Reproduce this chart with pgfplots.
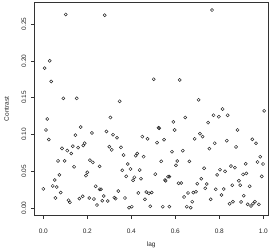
\documentclass[border=0pt]{standalone}
\usepackage{fontspec}
\setmainfont{Liberation Sans}
\usepackage{pgfplots}
\pgfplotsset{compat=1.18}
\newcommand\f{\fontsize{6.5}{7.8}\selectfont}
\pgfplotstableread{
lag c
0.102 0.263
0.029 0.200
0.006 0.190
0.036 0.172
0.091 0.149
0.152 0.149
0.279 0.262
0.502 0.175
0.347 0.145
0.767 0.269
0.620 0.174
0.706 0.147
0.305 0.123
0.018 0.121
0.012 0.106
0.170 0.110
0.815 0.1345
1.004 0.132
0.774 0.126
0.798 0.124
0.838 0.126
0.645 0.123
0.591 0.117
0.749 0.116
0.524 0.1090
0.527 0.1085
0.597 0.106
0.883 0.106
0.025 0.093
0.221 0.102
0.146 0.099
0.085 0.081
0.109 0.078
0.127 0.074
0.134 0.084
0.158 0.082
0.182 0.085
0.188 0.088
0.067 0.064
0.097 0.064
0.140 0.056
0.212 0.065
0.225 0.062
0.200 0.0485
0.194 0.044
0.073 0.045
0.052 0.038
0.043 0.030
0.061 0.0285
0.000 0.026
0.079 0.021
0.055 0.0136
0.115 0.0105
0.121 0.0077
0.164 0.0127
0.179 0.0159
0.209 0.0136
0.230 0.0122
0.287 0.104
0.317 0.0996
0.335 0.0955
0.450 0.097
0.474 0.094
0.300 0.0833
0.311 0.079
0.353 0.0824
0.365 0.072
0.420 0.071
0.427 0.074
0.456 0.0697
0.256 0.0566
0.384 0.0598
0.359 0.0512
0.396 0.053
0.438 0.0516
0.377 0.043
0.414 0.0417
0.408 0.0376
0.444 0.0398
0.238 0.0295
0.256 0.0254
0.262 0.0254
0.341 0.023
0.275 0.0163
0.268 0.0099
0.293 0.0095
0.323 0.014
0.329 0.0127
0.371 0.0136
0.432 0.0204
0.468 0.0217
0.480 0.020
0.493 0.021
0.462 0.0118
0.244 0.004
0.390 0.0004
0.402 0.0018
0.486 0.0023
0.517 0.0888
0.549 0.0928
0.688 0.094
0.712 0.101
0.724 0.097
0.755 0.0806
0.585 0.0765
0.634 0.0779
0.536 0.0634
0.609 0.0639
0.603 0.058
0.664 0.0634
0.731 0.054
0.509 0.046
0.567 0.0426
0.573 0.0426
0.553 0.038
0.556 0.037
0.615 0.0336
0.627 0.034
0.718 0.0398
0.700 0.033
0.743 0.0326
0.736 0.0268
0.658 0.0204
0.682 0.021
0.694 0.022
0.640 0.015
0.677 0.0086
0.761 0.0118
0.543 0.0018
0.573 0.0018
0.652 0.0018
0.670 0.0004
0.779 0.088
0.834 0.0915
0.876 0.083
0.950 0.0933
0.967 0.088
0.986 0.0697
0.974 0.0625
0.999 0.0598
0.920 0.060
0.853 0.057
0.871 0.0548
0.803 0.052
0.790 0.045
0.826 0.0498
0.908 0.0457
0.923 0.047
0.993 0.043
0.889 0.037
0.938 0.0295
0.859 0.031
0.895 0.031
0.784 0.0254
0.820 0.0258
0.810 0.0177
0.911 0.0167
0.847 0.0058
0.862 0.0086
0.899 0.0082
0.929 0.005
0.944 0.0027
0.953 0.0058
0.962 0.0086
0.980 0.005
}\pts
\begin{document}
\begin{tikzpicture}
\useasboundingbox (-34.3pt,-35.3pt) rectangle (241.7pt,215.7pt);
\begin{axis}[
  at={(0,0)}, anchor=south west,
  scale only axis, width=233.7pt, height=213.4pt,
  xmin=-0.0409, xmax=1.0214, ymin=-0.01046, ymax=0.2795,
  axis line style={black!80, line width=0.5pt},
  tick pos=left, tick align=outside, major tick length=3.5pt,
  tick style={black!80, line width=0.5pt},
  xtick={0,0.2,0.4,0.6,0.8,1.0}, xticklabels={0.0,0.2,0.4,0.6,0.8,1.0},
  ytick={0,0.05,0.10,0.15,0.20,0.25}, yticklabels={0.00,0.05,0.10,0.15,0.20,0.25},
  ticklabel style={font=\f, text=black!85},
  xticklabel style={anchor=center},
  yticklabel style={rotate=90, anchor=center},
  xticklabel shift=11.8pt,
  yticklabel shift=6.8pt,
  xlabel={lag}, ylabel={Contrast},
  label style={font=\f, text=black!85},
  xlabel style={at={(axis description cs:0.5,-0.1387)}, anchor=center},
  ylabel style={at={(axis description cs:-0.1181,0.5)}, anchor=center, rotate=0},
]
\addplot[only marks, mark=o, mark size=1.55pt, black!85, mark options={line width=0.5pt}] table[x=lag,y=c] {\pts};
\end{axis}
\end{tikzpicture}
\end{document}
